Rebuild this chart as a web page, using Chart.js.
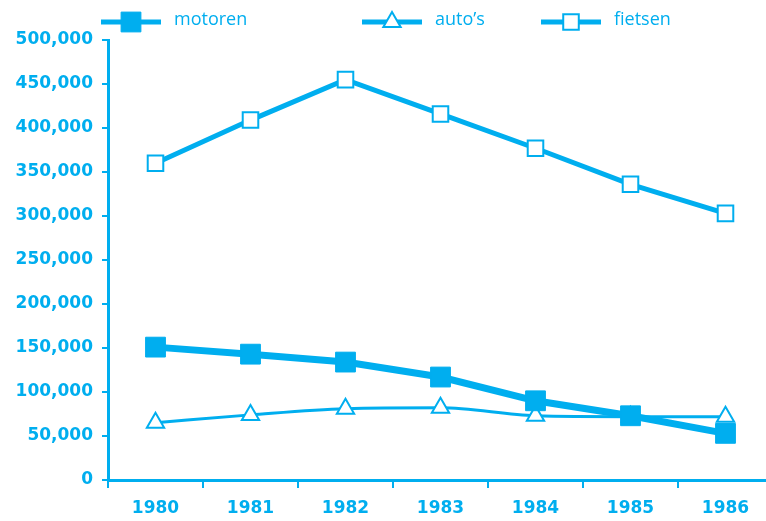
<!DOCTYPE html>
<html>
<head>
<meta charset="utf-8">
<script src="https://cdn.jsdelivr.net/npm/chart.js@4"></script>
<style>
  html, body { margin: 0; padding: 0; background: #fff; }
  /* the last category runs past the right edge, as in the original */
  #wrap { width: 766px; height: 521px; overflow: hidden; position: relative; }
  #chart { display: block; }
</style>
</head>
<body>
<div id="wrap"><canvas id="chart" width="773" height="521"></canvas></div>
<script>
const years = ['1980', '1981', '1982', '1983', '1984', '1985', '1986'];
const motoren = [151000, 143000, 134000, 117000, 90000, 73000, 53000];
const autos = [65000, 74000, 81000, 82000, 73000, 72000, 72000];
const fietsen = [360000, 409000, 455000, 416000, 377000, 336000, 303000];
const seriesLabels = ['motoren', 'auto\u2019s', 'fietsen'];

const blue = 'rgb(0, 174, 239)';
const tickFont = { family: 'DejaVu Sans', size: 17, weight: 'bold' };

// legend drawn by hand, spaced like the original
const legendSlots = [101, 362, 541];

const lineLegend = {
  id: 'lineLegend',
  afterDraw(chart) {
    const ctx = chart.ctx;
    const y = 22;
    chart.data.datasets.forEach((ds, i) => {
      const x0 = legendSlots[i];
      ctx.save();
      ctx.strokeStyle = blue;
      ctx.lineWidth = ds.legendLine;
      ctx.beginPath();
      ctx.moveTo(x0, y);
      ctx.lineTo(x0 + 60, y);
      ctx.stroke();
      ctx.fillStyle = ds.pointBackgroundColor;
      ctx.strokeStyle = blue;
      ctx.lineWidth = ds.pointBorderWidth;
      Chart.helpers.drawPoint(ctx, {
        pointStyle: ds.pointStyle,
        radius: ds.pointRadius,
        rotation: 0,
        borderWidth: ds.pointBorderWidth,
      }, x0 + 30, y);
      ctx.fillStyle = blue;
      ctx.font = '18px "Open Sans"';
      ctx.textBaseline = 'middle';
      ctx.fillText(ds.label, x0 + 73, y - 2);
      ctx.restore();
    });
  },
};

const pointOpts = (style, radius, fill, border) => ({
  pointStyle: style,
  pointRadius: radius,
  pointHoverRadius: radius,
  pointBackgroundColor: fill,
  pointBorderColor: blue,
  pointBorderWidth: border,
});

new Chart(document.getElementById('chart'), {
  type: 'line',
  data: {
    labels: years,
    datasets: [
      {
        label: seriesLabels[0],
        data: motoren,
        borderColor: blue,
        borderWidth: 7,
        legendLine: 5,
        ...pointOpts('rect', 14, blue, 1),
      },
      {
        label: seriesLabels[1],
        data: autos,
        borderColor: blue,
        borderWidth: 3,
        legendLine: 5,
        cubicInterpolationMode: 'monotone',
        ...pointOpts('triangle', 10, '#fff', 2),
      },
      {
        label: seriesLabels[2],
        data: fietsen,
        borderColor: blue,
        borderWidth: 5,
        legendLine: 5,
        ...pointOpts('rect', 11, '#fff', 2),
      },
    ],
  },
  options: {
    responsive: false,
    animation: false,
    devicePixelRatio: 1,
    layout: { autoPadding: false, padding: { top: 40, right: 0, left: 0, bottom: 0 } },
    plugins: {
      legend: { display: false },
      tooltip: { enabled: false },
    },
    scales: {
      x: {
        type: 'category',
        offset: true,
        grid: {
          offset: true,
          drawOnChartArea: false,
          drawTicks: true,
          tickLength: 8,
          color: blue,
          lineWidth: 2,
        },
        border: { color: blue, width: 3 },
        ticks: { color: blue, font: tickFont, padding: 10, maxRotation: 0 },
        afterFit(scale) {
          scale.height = 41;
          scale.paddingLeft = 0;
          scale.paddingRight = 0;
        },
      },
      y: {
        min: 0,
        max: 500000,
        grid: {
          drawOnChartArea: false,
          drawTicks: true,
          tickLength: 6,
          color: blue,
          lineWidth: 2,
        },
        border: { color: blue, width: 3 },
        ticks: {
          stepSize: 50000,
          color: blue,
          font: tickFont,
          padding: 9,
          callback: (v) => (v === 0 ? '0' : v.toLocaleString('en-US')),
        },
        afterFit(scale) { scale.width = 108; },
      },
    },
  },
  plugins: [lineLegend],
});
</script>
</body>
</html>
